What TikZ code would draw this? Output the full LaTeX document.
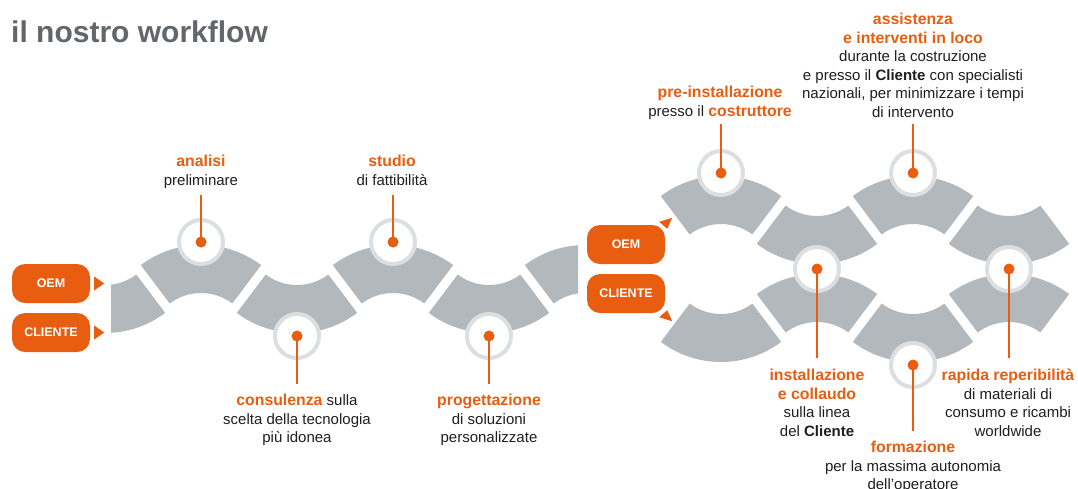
\documentclass[tikz,border=0pt]{standalone}
\usepackage{fontspec}
\setmainfont{Liberation Sans}
\usetikzlibrary{calc}

\definecolor{segGrey}{HTML}{B3B8BD}
\definecolor{ringGrey}{HTML}{DCDFE2}
\definecolor{accent}{HTML}{E85D0F}
\definecolor{titleGrey}{HTML}{62676C}
\definecolor{ink}{HTML}{1E1E1E}

\newcommand{\stepname}[1]{\textcolor{accent}{\fontsize{15.8}{18.5}\selectfont\textbf{#1}}}

\begin{document}
\begin{tikzpicture}[x=1pt,y=1pt,
    seg/.style={fill=segGrey},
    ring/.style={circle,draw=ringGrey,line width=4pt,fill=white,minimum size=44pt,inner sep=0pt},
    dot/.style={circle,fill=accent,minimum size=11pt,inner sep=0pt},
    stem/.style={draw=accent,line width=2.5pt},
    tag/.style={rectangle,rounded corners=13pt,fill=accent,text=white,minimum width=78pt,minimum height=39pt,font=\fontsize{12.5}{14}\selectfont\bfseries},
    desc/.style={align=center,inner sep=0pt,anchor=north,text=ink,font=\fontsize{15}{18.5}\selectfont}]
    \useasboundingbox (0,0) rectangle (1078,-488);

    \node[anchor=base west,inner sep=0pt,text=titleGrey,font=\fontsize{30}{35}\selectfont\bfseries] (title) at (11,-42) {il nostro workflow};

    % first wave
    \begin{scope}
        \clip (111,0) rectangle (578,-488);
        \foreach \x/\y/\a in {105/233/233, 201/345/53, 297/233/233, 393/345/53, 489/233/233, 585/345/53} {
            \pgfmathsetmacro{\b}{\a+74}
            \fill[seg] ($(\x,-\y)+(\a:100)$) arc[start angle=\a,end angle=\b,radius=100]
                -- ($(\x,-\y)+(\b:52)$) arc[start angle=\b,end angle=\a,radius=52] -- cycle;
        }
    \end{scope}

    % double wave
    \foreach \x/\y/\a in {721/276/53, 817/164/233, 913/276/53, 1009/164/233,
                          721/262/233, 817/374/53, 913/262/233, 1009/374/53} {
        \pgfmathsetmacro{\b}{\a+74}
        \fill[seg] ($(\x,-\y)+(\a:100)$) arc[start angle=\a,end angle=\b,radius=100]
            -- ($(\x,-\y)+(\b:52)$) arc[start angle=\b,end angle=\a,radius=52] -- cycle;
    }

    % entry tags
    \node[tag] (oemL) at (51,-283.5) {OEM};
    \node[tag] (cliL) at (51,-332.5) {CLIENTE};
    \node[tag] (oemR) at (626,-244.5) {OEM};
    \node[tag] (cliR) at (626,-293.5) {CLIENTE};
    \fill[accent] ($(oemL.east)+(4,7)$) -- ++(10,-7) -- ++(-10,-7) -- cycle;
    \fill[accent] ($(cliL.east)+(4,7)$) -- ++(10,-7) -- ++(-10,-7) -- cycle;
    \fill[accent] ($(oemR.north east)+(7,7)$) -- ($(oemR.north east)+(-6,3)$) -- ($(oemR.north east)+(2,-4)$) -- cycle;
    \fill[accent] ($(cliR.south east)+(7,-8)$) -- ($(cliR.south east)+(-6,-4)$) -- ($(cliR.south east)+(2,3)$) -- cycle;

    % milestones
    \node[ring] (c1) at (201,-242) {};
    \node[ring] (c2) at (297,-336) {};
    \node[ring] (c3) at (393,-242) {};
    \node[ring] (c4) at (489,-336) {};
    \node[ring] (c5) at (721,-173) {};
    \node[ring] (c6) at (817,-269) {};
    \node[ring] (c7) at (913,-173) {};
    \node[ring] (c8) at (913,-365) {};
    \node[ring] (c9) at (1009,-269) {};

    \node[desc] (l1) at (201,-155) {\stepname{analisi}\\preliminare};
    \node[desc] (l2) at (297,-394) {\stepname{consulenza} sulla\\scelta della tecnologia\\più idonea};
    \node[desc] (l3) at (392,-155) {\stepname{studio}\\di fattibilità};
    \node[desc] (l4) at (489,-394) {\stepname{progettazione}\\di soluzioni\\personalizzate};
    \node[desc] (l5) at (720,-86) {\stepname{pre-installazione}\\presso il \stepname{costruttore}};
    \node[desc] (l6) at (817,-369) {\stepname{installazione}\\\stepname{e collaudo}\\sulla linea\\del \textbf{Cliente}};
    \node[desc] (l7) at (913,-13) {\stepname{assistenza}\\\stepname{e interventi in loco}\\durante la costruzione\\e presso il \textbf{Cliente} con specialisti\\nazionali, per minimizzare i tempi\\di intervento};
    \node[desc] (l8) at (913,-441) {\stepname{formazione}\\per la massima autonomia\\dell’operatore};
    \node[desc] (l9) at (1008,-369) {\stepname{rapida reperibilità}\\di materiali di\\consumo e ricambi\\worldwide};

    \coordinate (e1) at (201,-195);
    \coordinate (e2) at (297,-384);
    \coordinate (e3) at (393,-195);
    \coordinate (e4) at (489,-384);
    \coordinate (e5) at (721,-124);
    \coordinate (e6) at (817,-358);
    \coordinate (e7) at (913,-124);
    \coordinate (e8) at (913,-431);
    \coordinate (e9) at (1009,-358);

    \foreach \i in {1,...,9} {
        \node[dot] (p\i) at (c\i) {};
        \draw[stem] (p\i.center) -- (e\i);
    }
\end{tikzpicture}
\end{document}
